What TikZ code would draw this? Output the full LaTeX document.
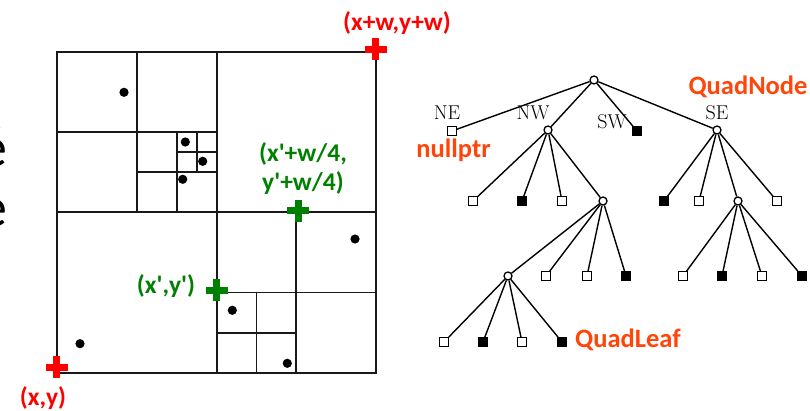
\documentclass[tikz,border=0pt]{standalone}
\usepackage{fontspec}
\setmainfont{Carlito}
\newfontfamily\lmfont{Latin Modern Roman}
\definecolor{qred}{RGB}{255,0,0}
\definecolor{qgreen}{RGB}{0,128,0}
\definecolor{qorange}{RGB}{255,70,10}
\newcommand{\sq}{\textquotesingle}
\tikzset{
  qline/.style={line width=1.7pt, draw=black!90},
  qdot/.style={fill=black},
  inner/.style={circle, draw, fill=white, line width=1.3pt, minimum size=8pt, inner sep=0pt},
  wleaf/.style={rectangle, draw, fill=white, line width=1.3pt, minimum size=8.5pt, inner sep=0pt},
  bleaf/.style={rectangle, draw, fill=black, line width=1.3pt, minimum size=8.5pt, inner sep=0pt},
  tedge/.style={line width=1.4pt},
  dirlabel/.style={font=\lmfont\fontsize{20}{20}\selectfont, inner sep=0pt},
  redlabel/.style={text=qred, font=\bfseries\fontsize{25.5}{27}\selectfont, inner sep=0pt, align=center},
  greenlabel/.style={text=qgreen, font=\bfseries\fontsize{25.5}{29}\selectfont, inner sep=0pt, align=center},
  orangelabel/.style={text=qorange, font=\bfseries\fontsize{26.5}{28}\selectfont, inner sep=0pt},
  pics/plusmark/.style={code={
    \fill (-11,-3.5) rectangle (11,3.5);
    \fill (-3.5,-11) rectangle (3.5,11);
  }}
}
\begin{document}
\begin{tikzpicture}[x=1pt,y=-1pt]
\useasboundingbox (0,0) rectangle (810,411);
% clipped glyphs at left edge
\begin{scope}
\clip (0,0) rectangle (810,411);
\node[anchor=base east, inner sep=0pt, font=\fontsize{56}{60}\selectfont] (ea) at (8,167) {é};
\node[anchor=base east, inner sep=0pt, font=\fontsize{56}{60}\selectfont] (eb) at (8,227) {e};
\end{scope}
% quadtree subdivision
\draw[qline] (57,52) rectangle (376,373);
\draw[qline] (216.7,52) -- (216.7,373);
\draw[qline] (57,212.3) -- (376,212.3);
% top-left quadrant
\draw[qline] (136.8,52) -- (136.8,212.3);
\draw[qline] (57,132.2) -- (216.7,132.2);
\draw[qline] (176.7,132.2) -- (176.7,212.3);
\draw[qline] (136.8,172.2) -- (216.7,172.2);
\draw[qline] (196.7,132.2) -- (196.7,172.2);
\draw[qline] (176.7,152.2) -- (216.7,152.2);
% bottom-right quadrant
\draw[qline] (296.3,212.3) -- (296.3,373);
\draw[qline] (216.7,292.6) -- (376,292.6);
\draw[qline] (256.5,292.6) -- (256.5,373);
\draw[qline] (216.7,332.8) -- (296.3,332.8);
% points
\foreach \p in {(124,92.3),(185.3,142),(202.7,161.3),(182.7,179.3),(80,343.7),(232.3,310.3),(287.3,363.3),(355,239)}
  \fill[qdot] \p circle (4.6);
% corner marks
\pic[qred] at (375.7,49.3) {plusmark};
\pic[qred] at (56.7,367.3) {plusmark};
\pic[qgreen] at (216.7,290) {plusmark};
\pic[qgreen] at (298.3,211) {plusmark};
\node[redlabel] (lxwyw) at (397,23) {(x+w,y+w)};
\node[redlabel] (lxy) at (43,398) {(x,y)};
\node[greenlabel] (lxq) at (303,169) {(x\sq+w/4,\\y\sq+w/4)};
\node[greenlabel] (lxp) at (166,286) {(x\sq,y\sq)};
% tree
\node[inner] (root) at (594,80) {};
\node[wleaf] (ne) at (452,131) {};
\node[inner] (nw) at (548,130) {};
\node[bleaf] (sw) at (637,131) {};
\node[inner] (se) at (717,130) {};
\node[wleaf] (a1) at (473,201) {};
\node[bleaf] (a2) at (522,201) {};
\node[wleaf] (a3) at (562,201) {};
\node[inner] (a4) at (603,201) {};
\node[bleaf] (b1) at (664,201) {};
\node[wleaf] (b2) at (699,201) {};
\node[inner] (b3) at (738,201) {};
\node[wleaf] (b4) at (777,201) {};
\node[inner] (c1) at (508,276) {};
\node[wleaf] (c2) at (546,276) {};
\node[wleaf] (c3) at (587,276) {};
\node[bleaf] (c4) at (626,276) {};
\node[wleaf] (d1) at (683,276) {};
\node[bleaf] (d2) at (722,276) {};
\node[wleaf] (d3) at (762,276) {};
\node[bleaf] (d4) at (802,276) {};
\node[wleaf] (e1) at (444,342) {};
\node[bleaf] (e2) at (483,342) {};
\node[wleaf] (e3) at (522,342) {};
\node[bleaf] (e4) at (562,342) {};
\foreach \a/\b in {root/ne,root/nw,root/sw,root/se,
  nw/a1,nw/a2,nw/a3,nw/a4,se/b1,se/b2,se/b3,se/b4,
  a4/c1,a4/c2,a4/c3,a4/c4,b3/d1,b3/d2,b3/d3,b3/d4,
  c1/e1,c1/e2,c1/e3,c1/e4}
  \draw[tedge] (\a) -- (\b);
\node[dirlabel] (tne) at (447,113) {NE};
\node[dirlabel] (tnw) at (533,113) {NW};
\node[dirlabel] (tsw) at (612,122) {SW};
\node[dirlabel] (tse) at (717,113) {SE};
\node[orangelabel] (lnode) at (748,87) {QuadNode};
\node[orangelabel] (lnull) at (453.5,150) {nullptr};
\node[orangelabel] (lleaf) at (628,340) {QuadLeaf};
\end{tikzpicture}
\end{document}
